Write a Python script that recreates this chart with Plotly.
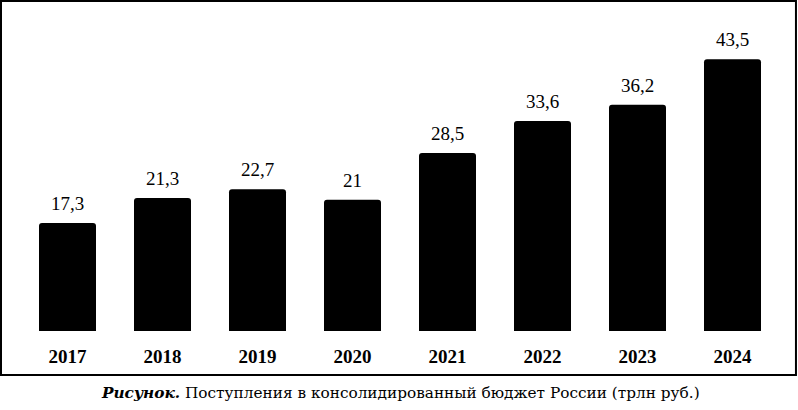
import plotly.graph_objects as go

# данные
years = ["2017", "2018", "2019", "2020", "2021", "2022", "2023", "2024"]
values = [17.3, 21.3, 22.7, 21.0, 28.5, 33.6, 36.2, 43.5]
labels = ["17,3", "21,3", "22,7", "21", "28,5", "33,6", "36,2", "43,5"]

caption = "<b><i>Рисунок.</i></b> Поступления в консолидированный бюджет России (трлн руб.)"

SERIF = "Liberation Serif, Times New Roman, serif"

fig = go.Figure(go.Bar(
    x=years,
    y=values,
    marker=dict(color="black", line=dict(width=0), cornerradius=3),
    hoverinfo="skip",
))

# подписи значений над столбцами (x = порядковый номер категории)
for i, (v, lab) in enumerate(zip(values, labels)):
    fig.add_annotation(x=i, y=v, text=lab, showarrow=False,
                       yanchor="bottom", yshift=7,
                       font=dict(family=SERIF, size=19, color="black"))

# рамка вокруг диаграммы
fig.add_shape(type="rect", xref="paper", yref="paper",
              x0=-0.025, x1=1.021, y0=-0.147, y1=1.1,
              line=dict(color="black", width=2))

fig.add_annotation(text=caption, xref="paper", yref="paper",
                   x=0.5, y=-0.205, xanchor="center", yanchor="middle",
                   showarrow=False,
                   font=dict(family="DejaVu Serif, serif", size=15.3, color="black"))

fig.update_layout(
    width=798, height=410,
    margin=dict(l=20, r=18, t=31, b=79),
    paper_bgcolor="white", plot_bgcolor="white",
    bargap=0.4,
    showlegend=False,
    xaxis=dict(type="category", showline=False, showgrid=False, zeroline=False,
               ticks="outside", ticklen=8, tickcolor="white",
               tickfont=dict(family=SERIF, size=19, color="black", weight="bold")),
    yaxis=dict(range=[0, 48], visible=False),
)

fig.write_html("out.html", config={"displayModeBar": False},
               post_script="document.body.style.margin='0';")
